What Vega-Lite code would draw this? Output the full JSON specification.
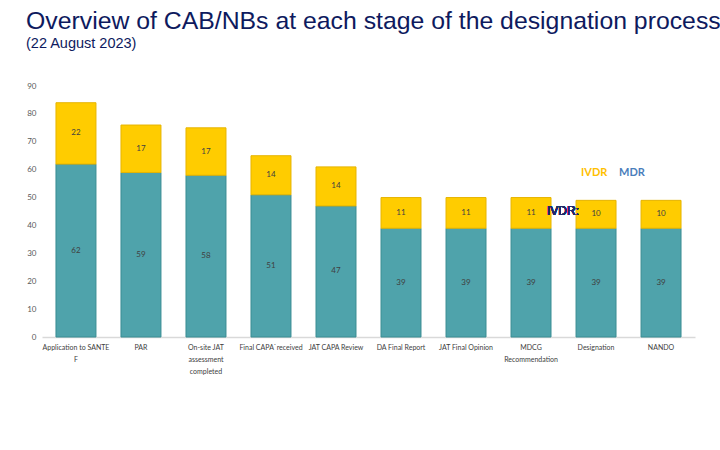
{
  "$schema": "https://vega.github.io/schema/vega-lite/v6.json",
  "width": 653,
  "height": 251,
  "autosize": "none",
  "padding": {"left": 42, "top": 86, "right": 25, "bottom": 113},
  "background": "white",
  "title": {
    "text": "Overview of CAB/NBs at each stage of the designation process",
    "subtitle": "(22 August 2023)",
    "anchor": "start",
    "frame": "group",
    "dx": -16,
    "offset": 31,
    "font": "Liberation Sans",
    "fontSize": 24.8,
    "fontWeight": "normal",
    "color": "#0E1A5E",
    "subtitleFont": "Liberation Sans",
    "subtitleFontSize": 14.5,
    "subtitleColor": "#0E1A5E",
    "subtitlePadding": 4
  },
  "config": {
    "view": {"stroke": null},
    "font": "Lato"
  },
  "resolve": {"axis": {"y": "independent"}},
  "data": {
    "values": [
      {"stage": "Application to SANTE F", "series": "MDR", "count": 62},
      {"stage": "Application to SANTE F", "series": "IVDR", "count": 22},
      {"stage": "PAR", "series": "MDR", "count": 59},
      {"stage": "PAR", "series": "IVDR", "count": 17},
      {"stage": "On-site JAT assessment completed", "series": "MDR", "count": 58},
      {"stage": "On-site JAT assessment completed", "series": "IVDR", "count": 17},
      {"stage": "Final CAPA`received", "series": "MDR", "count": 51},
      {"stage": "Final CAPA`received", "series": "IVDR", "count": 14},
      {"stage": "JAT CAPA Review", "series": "MDR", "count": 47},
      {"stage": "JAT CAPA Review", "series": "IVDR", "count": 14},
      {"stage": "DA Final Report", "series": "MDR", "count": 39},
      {"stage": "DA Final Report", "series": "IVDR", "count": 11},
      {"stage": "JAT Final Opinion", "series": "MDR", "count": 39},
      {"stage": "JAT Final Opinion", "series": "IVDR", "count": 11},
      {"stage": "MDCG Recommendation", "series": "MDR", "count": 39},
      {"stage": "MDCG Recommendation", "series": "IVDR", "count": 11},
      {"stage": "Designation", "series": "MDR", "count": 39},
      {"stage": "Designation", "series": "IVDR", "count": 10},
      {"stage": "NANDO", "series": "MDR", "count": 39},
      {"stage": "NANDO", "series": "IVDR", "count": 10}
    ]
  },
  "transform": [
    {"stack": "count", "groupby": ["stage"], "sort": [{"field": "series", "order": "descending"}], "as": ["y0", "y1"]},
    {"calculate": "(datum.y0 + datum.y1) / 2", "as": "ymid"}
  ],
  "encoding": {
    "x": {
      "field": "stage",
      "type": "nominal",
      "sort": null,
      "scale": {"paddingInner": 0.385, "paddingOuter": 0.215},
      "axis": {
        "title": null,
        "labelAngle": 0,
        "labelFont": "Lato",
        "labelFontSize": 7,
        "labelColor": "#404040",
        "labelPadding": 6,
        "labelLineHeight": 12,
        "labelOverlap": false,
        "ticks": false,
        "domainColor": "#D9D9D9",
        "domainWidth": 1.5,
        "labelExpr": "datum.label == 'Application to SANTE F' ? ['Application to SANTE', 'F'] : datum.label == 'On-site JAT assessment completed' ? ['On-site JAT', 'assessment', 'completed'] : datum.label == 'MDCG Recommendation' ? ['MDCG', 'Recommendation'] : datum.label"
      }
    }
  },
  "layer": [
    {
      "mark": {"type": "bar", "strokeWidth": 1},
      "encoding": {
        "y": {
          "field": "y0",
          "type": "quantitative",
          "scale": {"domain": [0, 90], "nice": false},
          "axis": {
            "title": null,
            "values": [0, 10, 20, 30, 40, 50, 60, 70, 80, 90],
            "labelOverlap": false,
            "grid": false,
            "domain": false,
            "ticks": false,
            "labelFont": "Lato",
            "labelFontSize": 8,
            "labelColor": "#595959",
            "labelPadding": 6
          }
        },
        "y2": {"field": "y1"},
        "color": {
          "field": "series",
          "type": "nominal",
          "scale": {"domain": ["IVDR", "MDR"], "range": ["#FFCC00", "#4FA3AB"]},
          "legend": {
            "title": null,
            "orient": "none",
            "direction": "horizontal",
            "legendX": 528,
            "legendY": 81,
            "padding": 0,
            "symbolSize": 0,
            "symbolOpacity": 0,
            "symbolStrokeWidth": 0,
            "labelOffset": 0,
            "columnPadding": -6,
            "labelFontSize": 11,
            "labelFontWeight": "bold",
            "labelFont": "Lato",
            "labelColor": {"expr": "datum.value == 'IVDR' ? '#FFC000' : '#4A7EBB'"}
          }
        },
        "stroke": {
          "field": "series",
          "type": "nominal",
          "scale": {"domain": ["IVDR", "MDR"], "range": ["#E6B400", "#3A8D93"]},
          "legend": null
        }
      }
    },
    {
      "mark": {"type": "text", "fontSize": 8, "color": "#404040", "font": "Lato"},
      "encoding": {
        "y": {"field": "ymid", "type": "quantitative", "axis": null},
        "text": {"field": "count", "type": "quantitative"}
      }
    },
    {
      "mark": {"type": "text", "fontSize": 12, "color": "#1F2A6B", "font": "Liberation Sans", "dx": 32, "dy": 1},
      "encoding": {
        "x": {"datum": "MDCG Recommendation"},
        "y": {"datum": 45.5, "axis": null},
        "text": {"value": "IVDR:"}
      }
    }
  ]
}
